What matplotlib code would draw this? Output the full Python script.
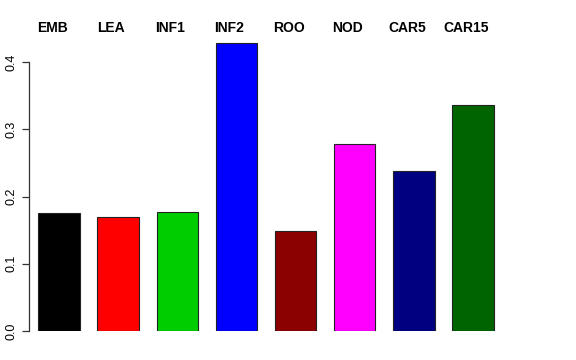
import matplotlib
matplotlib.use("Agg")
import matplotlib.pyplot as plt

categories = ["EMB", "LEA", "INF1", "INF2", "ROO", "NOD", "CAR5", "CAR15"]
values = [0.1755, 0.1695, 0.177, 0.428, 0.1487, 0.278, 0.238, 0.336]
colors = ["#000000", "#FF0000", "#00CD00", "#0000FF", "#8B0000", "#FF00FF", "#000080", "#006400"]
yticks = [0.0, 0.1, 0.2, 0.3, 0.4]
ytick_labels = ["0.0", "0.1", "0.2", "0.3", "0.4"]

W, H = 576, 360
fig = plt.figure(figsize=(W / 100, H / 100), dpi=100)

# axes in pixel geometry
left_px, right_px = 29, 547
bottom_px, top_px = 331, 35
ax = fig.add_axes([left_px / W, 1 - bottom_px / H, (right_px - left_px) / W, (bottom_px - top_px) / H])

period = (473 - 59) / 7.0
x0 = -(59 - left_px) / period
x1 = 7 + (right_px - 473) / period
ylim_top = (bottom_px - top_px) / 672.5

xs = list(range(len(categories)))
ax.bar(xs, values, width=0.7, color=colors, edgecolor="#222222", linewidth=0.8)
ax.set_xlim(x0, x1)
ax.set_ylim(0, ylim_top)

for s in ["top", "right", "bottom"]:
    ax.spines[s].set_visible(False)
ax.spines["left"].set_bounds(0, 0.4)
ax.spines["left"].set_color("#333333")
ax.spines["left"].set_linewidth(0.9)
ax.set_xticks([])
ax.set_yticks(yticks)
ax.set_yticklabels(ytick_labels, rotation=90, va="center", fontsize=9,
                   family="Liberation Sans")
ax.tick_params(axis="y", length=5, width=0.9, color="#333333", pad=3)

for x, c in zip(xs, categories):
    fig.text((59 + x * period - 7) / W, 1 - 28 / H, c, ha="center", va="center",
             fontsize=10, fontweight="bold", family="Liberation Sans")

fig.savefig("out.png", dpi=100)
